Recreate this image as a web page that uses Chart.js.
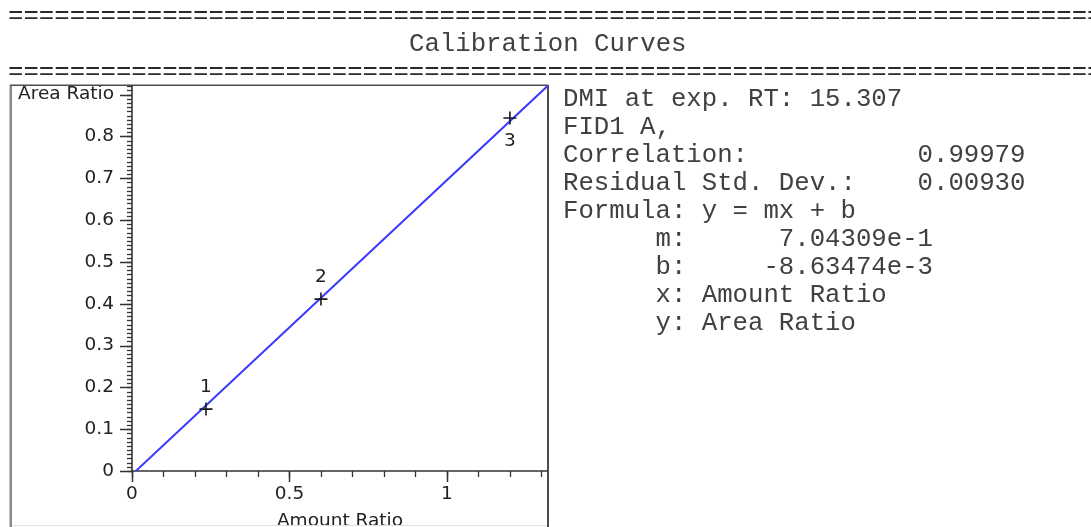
<!DOCTYPE html>
<html>
<head>
<meta charset="utf-8">
<title>Calibration Curves</title>
<script src="https://cdn.jsdelivr.net/npm/chart.js@4/dist/chart.umd.min.js"></script>
<style>
  html, body { margin: 0; padding: 0; background: #fff; width: 1091px; height: 527px; overflow: hidden; }
  #wrap { position: relative; width: 1091px; height: 527px; overflow: hidden; }
  canvas { position: absolute; left: 0; top: 0; }
  .mono {
    position: absolute; margin: 0; white-space: pre;
    font-family: "Liberation Mono", "DejaVu Sans Mono", monospace;
    font-size: 25.7px; line-height: 28px; color: #404040;
  }
  .rule { color: #2a2a2a; }
</style>
</head>
<body>
<div id="wrap">
  <canvas id="calib" width="1091" height="540"></canvas>
  <pre class="mono rule" id="ruleTop" style="left:8px; top:3px;"></pre>
  <pre class="mono" id="title" style="left:409px; top:31px;"></pre>
  <pre class="mono rule" id="ruleBottom" style="left:8px; top:59px;"></pre>
  <pre class="mono" id="info" style="left:563px; top:86px;"></pre>
</div>
<script>
// Calibration levels (amount ratio vs. area ratio)
const amountRatio = [0.235, 0.600, 1.200];
const areaRatio   = [0.148, 0.411, 0.844];
const levelNames  = ['1', '2', '3'];

// Linear fit y = m*x + b
const slope = 0.704309;
const intercept = -0.00863474;
const correlation = '0.99979';
const residualStdDev = '0.00930';

const compound = 'DMI';
const retentionTime = '15.307';
const signal = 'FID1 A,';
const reportTitle = 'Calibration Curves';
const xTitle = 'Amount Ratio';
const yTitle = 'Area Ratio';

// Axis ranges and labelled ticks
const xRange = [0, 1.321];
const yRange = [0, 0.923];
const xTickValues = [0, 0.5, 1];
const xTickLabels = ['0', '0.5', '1'];
const yTickValues = [0, 0.1, 0.2, 0.3, 0.4, 0.5, 0.6, 0.7, 0.8, 0.9];
const yTickLabels = ['0', '0.1', '0.2', '0.3', '0.4', '0.5', '0.6', '0.7', '0.8', yTitle];
const xMinorStep = 0.1;
const yMinorStep = 0.01;

// Fit line endpoints span the x range
const fitX = [xRange[0], xRange[1]];

// Report text
const rule = '='.repeat(72);
document.getElementById('ruleTop').textContent = rule;
document.getElementById('ruleBottom').textContent = rule;
document.getElementById('title').textContent = reportTitle;
const pad = (s, n) => s + ' '.repeat(Math.max(0, n - s.length));
const padL = (s, n) => ' '.repeat(Math.max(0, n - s.length)) + s;
document.getElementById('info').textContent = [
  `${compound} at exp. RT: ${retentionTime}`,
  signal,
  pad('Correlation:', 23) + correlation,
  pad('Residual Std. Dev.:', 23) + residualStdDev,
  'Formula: y = mx + b',
  '      m:' + padL(slope.toExponential(5), 16),
  '      b:' + padL(intercept.toExponential(5), 16),
  '      x: ' + xTitle,
  '      y: ' + yTitle
].join('\n');

const TEXT = '#222';
const tickFont = { family: '"DejaVu Sans", sans-serif', size: 18.5 };

const crisp = v => Math.round(v) + 0.5;

// Frame, axis lines and tick marks
const axisFrame = {
  id: 'axisFrame',
  beforeDatasetsDraw(chart) {
    const { ctx, chartArea: { left, right, top, bottom }, scales: { x, y } } = chart;
    const seg = (x1, y1, x2, y2) => { ctx.beginPath(); ctx.moveTo(x1, y1); ctx.lineTo(x2, y2); ctx.stroke(); };
    ctx.save();
    // outer panel
    ctx.strokeStyle = '#e2e2e2'; ctx.lineWidth = 1;
    seg(10, 525.5, right, 525.5);
    ctx.strokeStyle = '#8a8a8a'; ctx.lineWidth = 2.5;
    seg(10.75, top, 10.75, 540);
    ctx.strokeStyle = '#4d4d4d'; ctx.lineWidth = 1.5;
    seg(10, top + 0.25, right, top + 0.25);
    ctx.lineWidth = 2;
    seg(right, top, right, 540);

    // axis lines
    ctx.strokeStyle = '#333'; ctx.lineWidth = 1.6;
    seg(left, top, left, bottom);
    seg(left, bottom, right, bottom);

    // y ticks: minor then labelled
    ctx.lineWidth = 1.3;
    const nY = Math.floor(yRange[1] / yMinorStep + 1e-6);
    for (let k = 0; k <= nY; k++) {
      const py = crisp(y.getPixelForValue(k * yMinorStep));
      seg(left - 5, py, left, py);
    }
    ctx.lineWidth = 1.5;
    yTickValues.forEach(v => {
      const py = crisp(y.getPixelForValue(v));
      seg(left - 12, py, left, py);
    });

    // x ticks: minor then labelled
    ctx.lineWidth = 1.3;
    const nX = Math.floor(xRange[1] / xMinorStep + 1e-6);
    for (let k = 0; k <= nX; k++) {
      const px = crisp(x.getPixelForValue(k * xMinorStep));
      seg(px, bottom, px, bottom + 6);
    }
    ctx.lineWidth = 1.5;
    xTickValues.forEach(v => {
      const px = crisp(x.getPixelForValue(v));
      seg(px, bottom, px, bottom + 11);
    });
    ctx.restore();
  },
  afterDatasetsDraw(chart) {
    const { ctx, chartArea: { top } } = chart;
    const meta = chart.getDatasetMeta(0);
    ctx.save();
    ctx.font = '18.5px "DejaVu Sans", sans-serif';
    ctx.fillStyle = TEXT;
    ctx.textAlign = 'center';
    ctx.textBaseline = 'middle';
    meta.data.forEach((pt, i) => {
      const below = pt.y - 40 < top;
      ctx.fillText(levelNames[i], pt.x, pt.y + (below ? 23 : -22));
    });
    ctx.restore();
  }
};

new Chart(document.getElementById('calib'), {
  type: 'scatter',
  data: {
    datasets: [
      {
        label: 'Levels',
        data: amountRatio.map((v, i) => ({ x: v, y: areaRatio[i] })),
        pointStyle: 'cross',
        pointRadius: 6.5,
        pointHoverRadius: 6.5,
        borderColor: '#1a1a1a',
        backgroundColor: '#1a1a1a',
        borderWidth: 1.6,
        order: 0
      },
      {
        label: 'Fit',
        type: 'line',
        data: fitX.map(v => ({ x: v, y: slope * v + intercept })),
        borderColor: '#3a3aff',
        borderWidth: 2,
        pointRadius: 0,
        showLine: true,
        fill: false,
        clip: 0,
        order: 1
      }
    ]
  },
  options: {
    responsive: false,
    animation: false,
    devicePixelRatio: 1,
    events: [],
    layout: { padding: { left: 0, top: 85, right: 1091 - 548, bottom: 0 } },
    plugins: { legend: { display: false }, tooltip: { enabled: false } },
    scales: {
      x: {
        type: 'linear',
        position: 'bottom',
        min: xRange[0],
        max: xRange[1],
        afterBuildTicks: s => { s.ticks = xTickValues.map(v => ({ value: v })); },
        afterFit: s => { s.height = 540 - 471; },
        grid: { display: false, drawTicks: false },
        border: { display: false },
        ticks: {
          autoSkip: false, maxRotation: 0, padding: 12,
          font: tickFont, color: TEXT,
          callback: v => xTickLabels[xTickValues.indexOf(v)]
        },
        title: {
          display: true, text: xTitle, font: tickFont, color: TEXT,
          padding: { top: 0, bottom: 8 }
        }
      },
      y: {
        type: 'linear',
        position: 'left',
        min: yRange[0],
        max: yRange[1],
        afterBuildTicks: s => { s.ticks = yTickValues.map(v => ({ value: v })); },
        afterFit: s => { s.width = 132; },
        grid: { display: false, drawTicks: false },
        border: { display: false },
        ticks: {
          autoSkip: false, padding: 18,
          font: tickFont, color: TEXT,
          callback: v => yTickLabels[yTickValues.indexOf(v)]
        }
      }
    }
  },
  plugins: [axisFrame]
});
</script>
</body>
</html>
